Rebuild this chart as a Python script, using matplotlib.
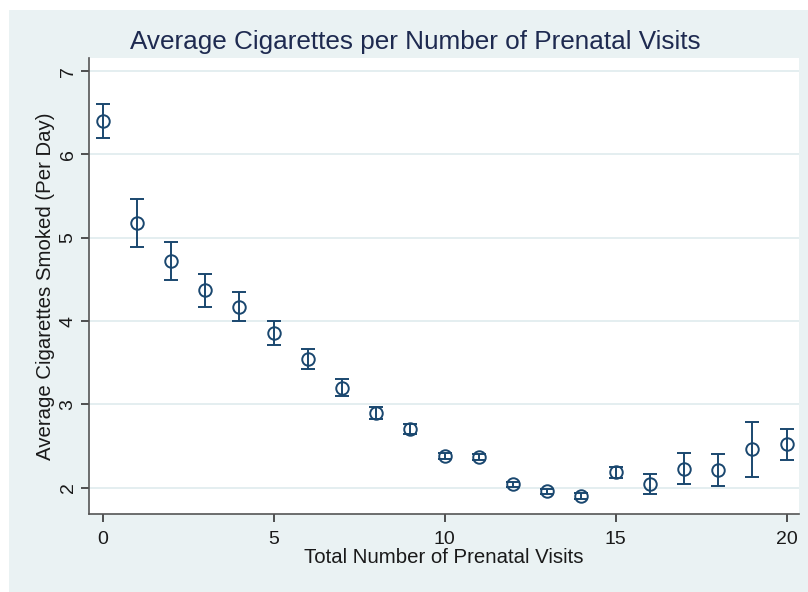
import matplotlib.pyplot as plt
from matplotlib.patches import Rectangle

plt.rcParams['font.family'] = ['Liberation Sans', 'DejaVu Sans']

# Mean cigarettes per day by number of prenatal visits, with CI bounds
visits = list(range(21))
mean_cigs = [6.40, 5.18, 4.72, 4.37, 4.17, 3.86, 3.55, 3.20, 2.90, 2.70,
             2.38, 2.37, 2.04, 1.96, 1.90, 2.19, 2.05, 2.23, 2.21, 2.46, 2.52]
ci_low = [6.20, 4.89, 4.49, 4.17, 4.00, 3.71, 3.43, 3.10, 2.83, 2.64,
          2.34, 2.33, 2.01, 1.93, 1.86, 2.12, 1.93, 2.05, 2.02, 2.13, 2.33]
ci_high = [6.60, 5.47, 4.95, 4.57, 4.35, 4.00, 3.67, 3.31, 2.97, 2.77,
           2.42, 2.41, 2.07, 1.99, 1.94, 2.25, 2.16, 2.42, 2.41, 2.79, 2.71]

x_ticks = [0, 5, 10, 15, 20]
y_ticks = [2, 3, 4, 5, 6, 7]

navy = '#1a476f'
bg = '#eaf2f3'

fig = plt.figure(figsize=(8.08, 5.92), dpi=100, facecolor='white')
fig.patches.append(Rectangle((9 / 808, 0), 1 - 9 / 808, 1 - 10 / 592,
                             transform=fig.transFigure, facecolor=bg,
                             edgecolor='none', zorder=-10))

ax = fig.add_axes([89 / 808, 1 - 514 / 592, 710 / 808, 456 / 592])
ax.set_facecolor('white')

yerr = [[m - lo for m, lo in zip(mean_cigs, ci_low)],
        [hi - m for m, hi in zip(mean_cigs, ci_high)]]
ax.errorbar(visits, mean_cigs, yerr=yerr, fmt='o', markersize=9,
            markerfacecolor='none', markeredgecolor=navy, markeredgewidth=1.4,
            ecolor=navy, elinewidth=1.4, capsize=5, capthick=1.4, zorder=3)

ax.set_xlim(-0.40, 20.36)
ax.set_ylim(1.684, 7.158)
ax.set_xticks(x_ticks)
ax.set_yticks(y_ticks)
ax.set_yticklabels([str(t) for t in y_ticks], rotation=90, va='center')

ax.grid(axis='y', color='#e4eef0', linewidth=1.4, zorder=0)
ax.grid(axis='x', visible=False)
for side in ['top', 'right']:
    ax.spines[side].set_visible(False)
for side in ['left', 'bottom']:
    ax.spines[side].set_color('#555555')
    ax.spines[side].set_linewidth(1.2)
ax.tick_params(axis='both', length=6, width=1.2, color='#333333',
               labelsize=14, labelcolor='#1a1a1a')
ax.tick_params(axis='x', pad=6.5)
ax.tick_params(axis='y', pad=3)

ax.set_xlabel('Total Number of Prenatal Visits', fontsize=14.7,
              color='#1a1a1a', labelpad=0)
ax.set_ylabel('Average Cigarettes Smoked (Per Day)', fontsize=14.7,
              color='#1a1a1a', labelpad=3)

fig.text(0.514, 1 - 49 / 592, 'Average Cigarettes per Number of Prenatal Visits',
         ha='center', va='baseline', fontsize=18.8, color='#1e2a50')

fig.savefig('out.png', dpi=100, facecolor=fig.get_facecolor())
